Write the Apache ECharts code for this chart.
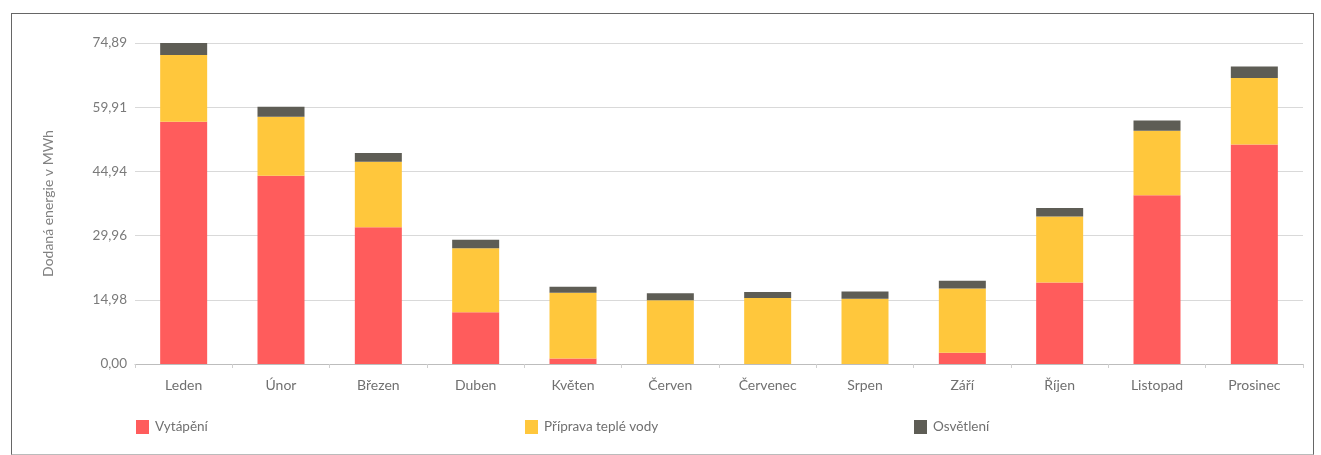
<!DOCTYPE html>
<html>
<head>
<meta charset="utf-8">
<script src="https://cdn.jsdelivr.net/npm/echarts@6/dist/echarts.min.js"></script>
<style>
  html, body { margin: 0; padding: 0; background: #fff; }
  #frame {
    position: absolute; left: 11px; top: 13px; width: 1301px; height: 440px;
    border: 1px solid #666; border-bottom-color: #bbb;
  }
  #chart { position: absolute; left: 0; top: 0; width: 1321px; height: 455px; }
</style>
</head>
<body>
<div id="frame"></div>
<div id="chart"></div>
<script>
// měsíce
const months = ['Leden', 'Únor', 'Březen', 'Duben', 'Květen', 'Červen',
  'Červenec', 'Srpen', 'Září', 'Říjen', 'Listopad', 'Prosinec']

// hodnoty v MWh
const heating = [56.5, 43.9, 31.9, 12.1, 1.3, 0, 0, 0, 2.6, 19.0, 39.4, 51.2]
const hotWater = [15.6, 13.8, 15.3, 14.9, 15.3, 14.9, 15.4, 15.2, 15.0, 15.4, 15.0, 15.5]
const lighting = [2.8, 2.3, 2.0, 2.0, 1.4, 1.6, 1.4, 1.7, 1.8, 2.0, 2.4, 2.7]

const yMax = 74.8925
const yStep = 14.9785

const seriesNames = ['Vytápění', 'Příprava teplé vody', 'Osvětlení']
const colors = ['#FF5C5C', '#FFC73C', '#5E5D55']

const chart = echarts.init(document.getElementById('chart'))

const textFont = 'Lato'

const option = {
  animation: false,
  color: colors,
  grid: { left: 135, right: 18, top: 43, bottom: 91 },
  legend: seriesNames.map((name, i) => ({
    data: [name],
    left: [136, 525, 914][i],
    top: 420,
    padding: 0,
    itemWidth: 13,
    itemHeight: 14,
    itemGap: 6,
    icon: 'rect',
    textStyle: { fontFamily: textFont, fontSize: 13.5, color: '#707070', padding: [0, 0, 0, 1] }
  })),
  xAxis: {
    type: 'category',
    data: months,
    axisLine: { lineStyle: { color: '#bdbdbd' } },
    axisTick: { show: true, length: 4, lineStyle: { color: '#cfcfcf' } },
    axisLabel: { fontFamily: textFont, fontSize: 14, color: '#707070', margin: 14 }
  },
  yAxis: {
    type: 'value',
    min: 0,
    max: yMax,
    interval: yStep,
    name: 'Dodaná energie v MWh',
    nameLocation: 'middle',
    nameGap: 80,
    nameTextStyle: { fontFamily: textFont, fontSize: 14, color: '#808080' },
    axisLine: { show: false },
    axisTick: { show: false },
    splitLine: { lineStyle: { color: '#d9d9d9' } },
    axisLabel: {
      fontFamily: textFont, fontSize: 13.5, color: '#7a7a7a', margin: 8,
      formatter: v => v.toFixed(2).replace('.', ',')
    }
  },
  series: [heating, hotWater, lighting].map((d, i) => ({
    name: seriesNames[i],
    type: 'bar',
    stack: 'total',
    data: d,
    barWidth: 47
  }))
}

chart.setOption(option)
</script>
</body>
</html>
